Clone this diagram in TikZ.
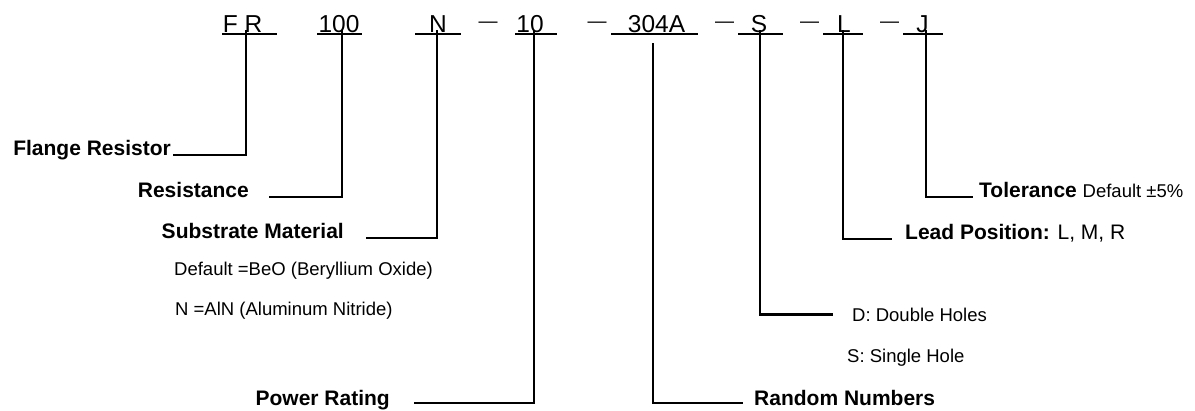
\documentclass[tikz,border=0pt]{standalone}
\usepackage{fontspec}
\setmainfont{Liberation Sans}
\usetikzlibrary{positioning}

\begin{document}
\begin{tikzpicture}[x=1pt, y=-1pt, line join=miter,
    code/.style={font=\fontsize{24.5}{29}\selectfont, inner sep=0pt, anchor=base},
    sepdash/.style={font=\fontsize{19}{23}\selectfont, inner sep=0pt, anchor=base},
    lbl/.style={font=\fontsize{21}{25}\selectfont\bfseries, inner sep=0pt},
    note/.style={font=\fontsize{18.5}{22}\selectfont, inner sep=0pt, anchor=base west},
    uline/.style={line width=1.2pt},
    conn/.style={line width=2.8pt}]

    \useasboundingbox (0,0) rectangle (1195,410);

    % Part number
    \node[code] (cFR) at (242.5,32) {F R};
    \node[code] (c100) at (339,32) {100};
    \node[code] (cN) at (438,32) {N};
    \node[sepdash] (d1) at (488,27) {—};
    \node[code] (c10) at (530,32) {10};
    \node[sepdash] (d2) at (597,27) {—};
    \node[code] (c304) at (656.5,32) {304A};
    \node[sepdash] (d3) at (724.5,27) {—};
    \node[code] (cS) at (759,32) {S};
    \node[sepdash] (d4) at (809.5,27) {—};
    \node[code] (cL) at (844,32) {L};
    \node[sepdash] (d5) at (889.5,27) {—};
    \node[code] (cJ) at (922.5,32) {J};

    % Underlines
    \draw[uline] (222,34) -- (277,34);
    \draw[uline] (317,34) -- (362,34);
    \draw[uline] (415,34) -- (461,34);
    \draw[uline] (515,34) -- (557,34);
    \draw[uline] (611,34) -- (698,34);
    \draw[uline] (738,34) -- (783,34);
    \draw[uline] (823,34) -- (863,34);
    \draw[uline] (903,34) -- (943,34);

    % Leader tops
    \coordinate (tFR) at (246,30);
    \coordinate (t100) at (342,30);
    \coordinate (tN) at (437,30);
    \coordinate (t10) at (534,30);
    \coordinate (t304) at (653,43);
    \coordinate (tS) at (760,30);
    \coordinate (tL) at (843,30);
    \coordinate (tJ) at (926,30);

    % Labels
    \node[lbl, anchor=base east] (flange) at (171,155) {Flange Resistor};
    \node[lbl, anchor=base east] (resist) at (249,197) {Resistance};
    \node[lbl, anchor=base east] (subst) at (344,238) {Substrate Material};
    \node[note] (beo) at (174,275) {Default =BeO (Beryllium Oxide)};
    \node[note] (aln) at (175,315) {N =AlN (Aluminum Nitride)};
    \node[lbl, anchor=base east] (power) at (390,405) {Power Rating};
    \node[lbl, anchor=base west] (random) at (754,405) {Random Numbers};
    \node[note] (dbl) at (852,321) {D: Double Holes};
    \node[note] (sgl) at (847,362) {S: Single Hole};
    \node[lbl, anchor=base west] (lead) at (905,239) {Lead Position: {\mdseries L, M, R}};
    \node[lbl, anchor=base west] (tol) at (979,197) {Tolerance {\mdseries\fontsize{18.5}{22}\selectfont Default ±5\%}};

    % Leaders
    \draw[conn] (tFR) |- ([xshift=2pt]flange.base east);
    \draw[conn] (t100) |- ([xshift=20pt]resist.base east);
    \draw[conn] (tN) |- ([xshift=22pt]subst.base east);
    \draw[conn] (t10) |- ([xshift=24pt, yshift=2pt]power.base east);
    \draw[conn] (t304) |- ([xshift=-11pt, yshift=2pt]random.base west);
    \draw[conn] (tS) |- ([xshift=-19pt]dbl.west);
    \draw[conn] (tL) |- ([xshift=-13pt]lead.base west);
    \draw[conn] (tJ) |- ([xshift=-6pt]tol.base west);
\end{tikzpicture}
\end{document}
